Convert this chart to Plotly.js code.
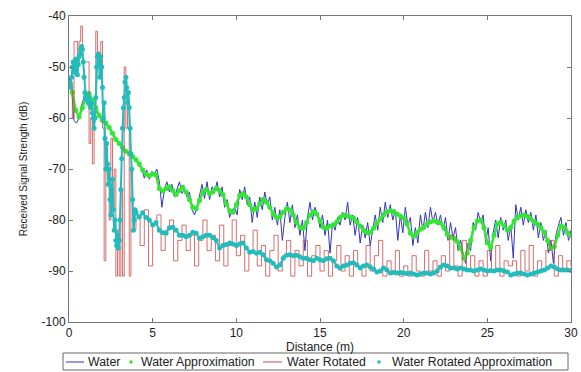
<!DOCTYPE html>
<html>
<head>
<meta charset="utf-8">
<script src="https://cdn.plot.ly/plotly-3.0.1.min.js"></script>
<style>html,body{margin:0;padding:0;background:#fff;}#chart{width:581px;height:372px;}</style>
</head>
<body>
<div id="chart"></div>
<script>
// Water (blue), sampled every 0.15 m from 0 m
const waterStart = 0, waterStep = 0.15;
const water = [-52,-54,-60.5,-61,-60,-57.5,-56,-55,-55.5,-56.5,-57.5,-59,-59.5,-60.5,-60.8,-61.5,-62,-63,-64,-64.5,
-65.3,-65.5,-66.4,-66.8,-67,-67.8,-68,-68.5,-69.5,-70,-71.8,-70.2,-72,-70.5,-71,-70,-72.5,-77.5,-74,-72.5,
-74.5,-73,-75.5,-74,-72.5,-74.8,-73.8,-75.5,-74.5,-78,-79,-77.5,-75,-73,-75.8,-72.5,-76,-73.5,-74.5,-72.5,
-75.5,-73.5,-77.5,-76,-79.5,-78,-77.5,-79,-74,-76,-73.5,-77,-75.5,-80.5,-76.5,-79.5,-75.5,-78,-74.5,-77,
-75.5,-80,-77.5,-81,-78,-84,-79.5,-76.5,-80.5,-77,-81.5,-79,-83,-80,-86,-79.5,-76.5,-80,-77.5,-79,
-81.5,-79,-83,-80,-86.5,-80.5,-82,-79.5,-81,-78.5,-80,-76.5,-81,-79,-83,-79.5,-84.5,-81,-83.5,-80.5,
-85,-81.5,-79,-82,-77.5,-80.5,-76.5,-79.5,-77,-80,-78,-84,-79,-82.5,-77.5,-81,-79.5,-85,-81.5,-84.5,
-79,-82,-78.5,-81.5,-77.5,-80.5,-78.5,-81,-79,-82,-79.5,-84,-80.5,-83.5,-81.5,-86,-84,-86.5,-88.5,-84.5,
-86,-80.5,-82,-78.5,-80.5,-79,-84.5,-81.5,-88,-82.5,-80,-83.5,-79.5,-82,-80,-84,-81,-87.5,-77,-80,
-77.5,-81,-78,-80.5,-78.5,-82,-79,-83.5,-80.5,-84,-82,-86.5,-84,-88.5,-83,-81,-79.5,-83,-80.5,-84,-82];

// Water Approximation (green), sampled every 0.2 m from 0 m
const approxStart = 0, approxStep = 0.2;
const waterApprox = [-53,-55,-58.5,-59.8,-58,-55.8,-55.2,-56.5,-58,-59.5,
-60.5,-61,-61.8,-63,-64.2,-65,-65.8,-66.5,-67,-67.6,
-68.2,-69,-70.2,-71,-71.3,-71,-71.2,-73.8,-74.3,-73.8,
-73.5,-74.2,-75,-74.2,-73.6,-74.5,-76,-77.5,-77.8,-76.2,
-74.5,-74,-74.8,-74.5,-73.8,-74.2,-75,-76.8,-78.2,-78.5,
-77,-75.2,-74.8,-75.5,-77,-78,-77.8,-76.8,-76,-76.5,
-77.5,-78.8,-79.5,-79.4,-78.5,-77.8,-78,-79,-80.5,-81.4,
-81.6,-80.5,-79,-78.4,-78.8,-80.2,-81.4,-81.6,-81.2,-81,
-80.4,-79.5,-79,-79.2,-79.4,-79.6,-80.4,-81.2,-82,-82.5,
-82.4,-81.6,-80.6,-79.8,-79,-78.4,-78.2,-78.4,-78.8,-79.2,
-79.6,-80.8,-82.6,-83.2,-82.5,-81.8,-81.4,-80.8,-80.4,-80.2,
-80.4,-80.6,-81.5,-82.8,-83.4,-83.6,-84.2,-85.5,-87.5,-86.5,
-84,-81.5,-80.2,-80,-81.5,-84.5,-85.4,-83,-80.8,-80.4,
-81.2,-82,-81.4,-80.2,-79.4,-79.2,-79,-79.3,-79.8,-80.4,
-80.8,-81.5,-82.4,-84,-85.6,-85.2,-83,-81.2,-81.4,-82.5,-83];

// Water Rotated (red): every 0.1 m from 0 m up to 3.9 m, then every 0.25 m from 4 m
const rotEarlyStart = 0, rotEarlyStep = 0.1;
const waterRotatedEarly = [-53,-53,-60,-45,-45,-49,-45,-42,-49,-49,
-49,-49,-65,-60,-69,-58,-43,-47,-52,-45,
-62,-88,-66,-72,-80,-64,-78,-70,-91,-82,
-91,-74,-91,-50,-62,-57,-91,-70,-79,-82];
const rotLateStart = 4, rotLateStep = 0.25;
const waterRotatedLate = [-79,-85,-78,-89,-81,-79,-86,-82,-80,-88,
-84,-81,-86,-83,-89,-84,-80,-86,-83,-88,
-81,-89,-85,-80,-87,-83,-90,-86,-82,-89,
-85,-91,-86,-83,-90,-87,-84,-91,-86,-89,
-84,-91,-87,-85,-90,-86,-91,-88,-85,-90,
-87,-91,-86,-89,-91,-85,-90,-87,-84,-91,
-88,-90,-86,-91,-89,-91,-87,-90,-91,-86,
-90,-88,-91,-87,-90,-83,-89,-91,-84,-90,
-87,-91,-88,-91,-86,-90,-85,-91,-88,-89,
-88,-91,-86,-90,-85,-91,-88,-90,-86,-84,
-91,-87,-90,-88,-89];

// Water Rotated Approximation (cyan): every 0.05 m from 0 m, then every 0.2 m from 4.2 m
const rotApproxEarlyStart = 0, rotApproxEarlyStep = 0.05;
const rotApproxEarly = [-53,-53.5,-54,-52,-50,-49,-51,-50,-48.5,-50.5,
-51.5,-49.5,-48,-47.5,-46.5,-46,-46.5,-49,-52,-55,
-56,-55.5,-56.5,-57,-56,-57.5,-58,-57,-59,-60,
-62,-60,-56,-50,-48,-47.5,-49,-52,-48,-50,
-54,-60,-57,-64,-70,-65,-69,-73,-70,-76,
-79,-74,-72,-78,-82,-80,-84,-85,-83,-85.5,
-84,-80,-74,-68,-62,-58,-56,-53,-52,-54,
-57,-55,-58,-62,-67,-70,-76,-82,-80,-78,-78.5];
const rotApproxLateStart = 4.2, rotApproxLateStep = 0.2;
const rotApproxLate = [-79.4,-78.6,-79.5,-80,-81,-80.5,-82,-82.5,-82.6,-81.5,
-81.4,-82,-83,-83,-83.3,-83,-82.4,-82.6,-83.6,-83.3,
-83,-83,-83.5,-84,-85.5,-85,-84.8,-84.5,-84.7,-85,
-84.7,-84.5,-85.5,-86.3,-86.2,-86.5,-86.3,-86.8,-87.8,-88,
-88.5,-89.2,-88.8,-87.5,-86.9,-86.8,-87,-86.9,-87.2,-87.5,
-87.5,-87.8,-88,-87.5,-87.8,-88,-87.6,-87.5,-88,-89,
-89.4,-89,-88.8,-88.5,-88.4,-88.8,-89.4,-89,-88.8,-89.2,
-89.6,-90.2,-90,-89.4,-89.8,-90.4,-90.3,-90.4,-90.3,-90.4,
-90.5,-90.4,-90.6,-90.8,-90.6,-90.4,-90.4,-90.6,-90.4,-90,
-89.2,-88.8,-89,-89.4,-89.4,-89.6,-89.4,-89.6,-89.8,-89.8,
-90,-89.8,-89.6,-89.8,-90,-89.9,-90,-89.8,-89.8,-90,
-90.2,-90.8,-90.6,-90.4,-90.4,-90.6,-90.8,-90.6,-90.4,-90.2,
-90,-89.8,-89.4,-89,-89.2,-89.6,-89.8,-89.8,-89.8,-89.9];

const seriesNames = ['Water', 'Water Approximation', 'Water Rotated', 'Water Rotated Approximation'];
const xTicks = [0,5,10,15,20,25,30];
const yTicks = [-100,-90,-80,-70,-60,-50,-40];

const xs = (arr, start, step) => arr.map((_, i) => +(start + i * step).toFixed(3));

const font = 'Liberation Sans, Arial, sans-serif';
const COLORS = {water: '#3434c2', approx: '#33e633', rot: '#c94a4a', rotApprox: '#22bcbc'};

const traces = [
  {name: seriesNames[0], type: 'scatter', mode: 'lines',
   x: xs(water, waterStart, waterStep), y: water,
   line: {color: COLORS.water, width: 1}},
  {name: seriesNames[1], type: 'scatter', mode: 'lines+markers',
   x: xs(waterApprox, approxStart, approxStep), y: waterApprox,
   line: {color: COLORS.approx, width: 2.5},
   marker: {color: COLORS.approx, size: 5, symbol: 'circle', line: {width: 0}}},
  {name: seriesNames[2], type: 'scatter', mode: 'lines',
   x: xs(waterRotatedEarly, rotEarlyStart, rotEarlyStep).concat(xs(waterRotatedLate, rotLateStart, rotLateStep)),
   y: waterRotatedEarly.concat(waterRotatedLate),
   line: {color: COLORS.rot, width: 1, shape: 'hv'}, opacity: 0.8},
  {name: seriesNames[3], type: 'scatter', mode: 'lines+markers',
   x: xs(rotApproxEarly, rotApproxEarlyStart, rotApproxEarlyStep).concat(xs(rotApproxLate, rotApproxLateStart, rotApproxLateStep)),
   y: rotApproxEarly.concat(rotApproxLate),
   line: {color: COLORS.rotApprox, width: 2},
   marker: {color: COLORS.rotApprox, size: 5, symbol: 'circle', line: {width: 0}}}
];

// Legend box drawn below the plot (page pixels converted to paper fractions)
const W = 581, H = 372, ML = 69, MR = 10, MT = 16, MB = 50;
const PW = W - ML - MR, PH = H - MT - MB;
const px = v => (v - ML) / PW;
const py = v => (H - MB - v) / PH;
const legY = 362;
const shapes = [
  {type: 'rect', xref: 'paper', yref: 'paper', x0: px(63), x1: px(568), y0: py(353), y1: py(370),
   line: {color: '#666', width: 1}, fillcolor: 'rgba(0,0,0,0)'},
  {type: 'line', xref: 'paper', yref: 'paper', x0: px(66), x1: px(84), y0: py(legY), y1: py(legY),
   line: {color: COLORS.water, width: 1}},
  {type: 'circle', xref: 'paper', yref: 'paper', x0: px(129.5), x1: px(132.5), y0: py(legY - 1.5), y1: py(legY + 1.5),
   line: {color: COLORS.approx, width: 0.5}, fillcolor: COLORS.approx},
  {type: 'line', xref: 'paper', yref: 'paper', x0: px(263), x1: px(282), y0: py(legY), y1: py(legY),
   line: {color: COLORS.rot, width: 1}},
  {type: 'circle', xref: 'paper', yref: 'paper', x0: px(377.5), x1: px(380.5), y0: py(legY - 1.5), y1: py(legY + 1.5),
   line: {color: COLORS.rotApprox, width: 0.5}, fillcolor: COLORS.rotApprox}
];
const legTextX = [86, 139, 285, 390];
const annotations = seriesNames.map((n, i) => ({
  text: n, xref: 'paper', yref: 'paper', x: px(legTextX[i]), y: py(legY), xanchor: 'left', yanchor: 'middle',
  showarrow: false, font: {family: font, size: 12.3, color: '#222'}
}));

const layout = {
  width: W, height: H,
  margin: {l: ML, r: MR, t: MT, b: MB, autoexpand: false},
  paper_bgcolor: '#ffffff', plot_bgcolor: '#ffffff',
  font: {family: font, size: 12, color: '#222'},
  showlegend: false,
  shapes: shapes,
  annotations: annotations,
  xaxis: {range: [0, 30], tickvals: xTicks, ticktext: xTicks.map(String),
          ticks: 'inside', ticklen: 4, tickcolor: '#777', showline: true, linecolor: '#777', linewidth: 1,
          mirror: 'ticks', showgrid: false, zeroline: false,
          tickfont: {family: font, size: 12, color: '#222'},
          title: {text: 'Distance (m)', font: {family: font, size: 12, color: '#222'}, standoff: 0}},
  yaxis: {range: [-100, -40], tickvals: yTicks, ticktext: yTicks.map(String),
          ticks: 'inside', ticklen: 4, tickcolor: '#777', showline: true, linecolor: '#777', linewidth: 1,
          mirror: 'ticks', showgrid: false, zeroline: false,
          tickfont: {family: font, size: 12, color: '#222'},
          title: {text: 'Received Signal Strength (dB)', font: {family: font, size: 10, color: '#222'}, standoff: 12}}
};

Plotly.newPlot('chart', traces, layout, {staticPlot: true, displayModeBar: false});
</script>
</body>
</html>
